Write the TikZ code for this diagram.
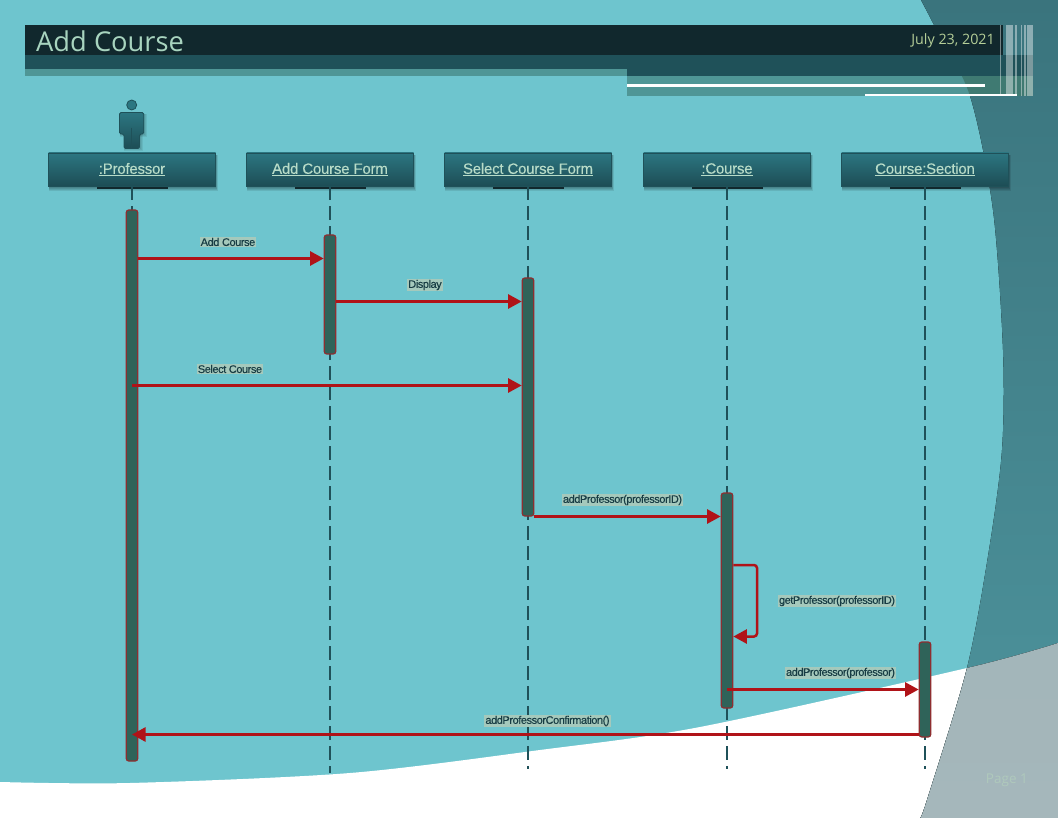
\documentclass[tikz,border=0pt]{standalone}
\usepackage{fontspec}
\setmainfont{Liberation Sans}
\newfontfamily\headfont{Open Sans}
\newfontfamily\tightfont[LetterSpace=-4,FakeBold=0.25]{Liberation Sans}
\newfontfamily\objfont[LetterSpace=-1.5,FakeBold=0.2]{Liberation Sans}
\usetikzlibrary{arrows.meta}
\definecolor{bgteal}{HTML}{6EC5CE}
\definecolor{barDark}{HTML}{11282D}
\definecolor{barMid}{HTML}{1F5159}
\definecolor{barLight}{HTML}{4F9696}
\definecolor{bandDark}{HTML}{3F7A72}
\definecolor{msgred}{HTML}{B01318}
\definecolor{actfill}{HTML}{2F6359}
\definecolor{actline}{HTML}{8E2E30}
\definecolor{paletxt}{HTML}{B8DCC8}
\definecolor{lblbg}{HTML}{A5C9BC}
\definecolor{lbltxt}{HTML}{173C44}
\definecolor{lifeline}{HTML}{1F5159}
\definecolor{boxTop}{HTML}{2C7681}
\definecolor{boxBot}{HTML}{1D4D55}
\definecolor{rsTop}{HTML}{3A747D}
\definecolor{rsBot}{HTML}{4E959E}
\definecolor{rgTop}{HTML}{9BB0B4}
\definecolor{rgBot}{HTML}{A5B7BB}
\definecolor{titleCol}{HTML}{A8D4BF}
\definecolor{dateCol}{HTML}{B5CF98}
\definecolor{pageCol}{HTML}{AFC9BC}
\tikzset{
  obj/.style={draw=barMid,line width=0.8pt,minimum width=167pt,minimum height=33pt,inner sep=0pt,
    top color=boxTop,bottom color=boxBot,text=paletxt,font=\objfont\fontsize{15}{15}\selectfont},
  act/.style={draw=actline,fill=actfill,line width=1.2pt,rounded corners=2.5pt,minimum width=11.5pt,inner sep=0pt},
  life/.style={draw=lifeline,line width=1.5pt,dash pattern=on 14pt off 6pt},
  msg/.style={draw=msgred,line width=2.5pt,-{Triangle[length=13.5pt,width=14pt]}},
  lbl/.style={fill=lblbg,text=lbltxt,inner sep=1pt,font=\tightfont\fontsize{11}{11}\selectfont},
}
\newcommand{\rightshape}{(921,0) plot[smooth] coordinates {(921,0) (933,23) (970,96) (993,210) (1003,350) (1002,450) (989,550) (967,668) (927,800) (920,818)} -- (1058,818) -- (1058,0) -- cycle}
\newcommand{\whiteshape}{(0,782) plot[smooth] coordinates {(0,782) (130,783) (350,773) (540,750) (700,727) (967,668) (1058,643)} -- (1058,818) -- (0,818) -- cycle}
\newcommand{\objshadow}[1]{%
  \foreach \d in {1,2,3,4,5}{\fill[black,opacity=.09] (#1-83,155) rectangle (#1+83+\d*.5,186+\d);}
  \fill[barDark] (#1-35,186) rectangle (#1+36,189.5);
  \fill[barMid] (#1-35,152) rectangle (#1+36,154);}
\begin{document}
\begin{tikzpicture}[x=1pt,y=-1pt]
\useasboundingbox (0,0) rectangle (1058,818);
% background
\fill[bgteal] (0,0) rectangle (1058,818);
\fill[white] \whiteshape;
\fill[top color=rsTop,bottom color=rsBot] \rightshape;
\begin{scope}
  \clip \whiteshape;
  \fill[top color=rgTop,bottom color=rgBot] \rightshape;
\end{scope}
% header
\fill[barLight] (25,69) rectangle (627,76);
\fill[barLight] (627,76) rectangle (1033,96);
\begin{scope}
  \clip \rightshape;
  \fill[bandDark] (627,76) rectangle (1033,96);
\end{scope}
\fill[barMid] (25,55) rectangle (627,69);
\fill[barMid] (627,55) rectangle (1033,76);
\fill[barDark] (25,25) rectangle (1003,55);
\foreach \a/\b in {1000/1000.7,1005.7/1013.3,1015/1016.7,1021/1022.3,1024.3/1026,1026.7/1033.3}
  \fill[white,opacity=.42] (\a,25) rectangle (\b,96);
\fill[white] (627,84) rectangle (985,87);
\fill[white] (865,94) rectangle (1017,96.5);
\node[anchor=west,inner sep=0pt,text=titleCol,font=\headfont\fontsize{27.3}{27.3}\selectfont] (title) at (36,41) {Add Course};
\node[anchor=east,inner sep=0pt,text=dateCol,font=\headfont\fontsize{14.3}{14.3}\selectfont] (date) at (995,41) {July 23, 2021};
\node[anchor=east,inner sep=0pt,text=pageCol,font=\headfont\fontsize{13.5}{13.5}\selectfont] (page) at (1028,780) {Page 1};
% actor
\foreach \d in {1,2,3}{\fill[black,opacity=.07] (120,114) rectangle (144+\d,134+\d);
  \fill[black,opacity=.07] (124,134) rectangle (140+\d,148+\d);}
\draw[barMid,line width=.8pt,fill=boxTop] (131.7,105) circle (5);
\draw[barMid,line width=.8pt,top color=boxTop,bottom color=boxBot,rounded corners=1.5pt]
  (119.5,112.5) -- (143.8,112.5) -- (143.8,134) -- (139.5,134) -- (139.5,148.5) -- (124,148.5) -- (124,134) -- (119.5,134) -- cycle;
\draw[barMid,line width=.7pt] (131.7,128) -- (131.7,148);
% lifeline ends and shadows
\objshadow{132}\objshadow{330}\objshadow{528}\objshadow{727}\objshadow{925}
\coordinate (e1) at (132,765);
\coordinate (e2) at (330,773);
\coordinate (e3) at (528,769);
\coordinate (e4) at (727,769);
\coordinate (e5) at (925,769);
% objects
\node[obj] (prof) at (132,169.5) {\underline{:Professor}};
\node[obj] (form) at (330,169.5) {\underline{Add Course Form}};
\node[obj] (sel) at (528,169.5) {\underline{Select Course Form}};
\node[obj] (course) at (727,169.5) {\underline{:Course}};
\node[obj] (sect) at (925,169.5) {\underline{Course:Section}};
% lifelines
\draw[life] (prof.south) -- (e1);
\draw[life] (form.south) -- (e2);
\draw[life] (sel.south) -- (e3);
\draw[life] (course.south) -- (e4);
\draw[life] (sect.south) -- (e5);
% activations
\node[act,minimum height=551pt] (a1) at (132,485.5) {};
\node[act,minimum height=119pt] (a2) at (330,294.5) {};
\node[act,minimum height=238pt] (a3) at (528,397) {};
\node[act,minimum height=215pt] (a4) at (727,600.5) {};
\node[act,minimum height=95pt] (a5) at (925,689.5) {};
% message heights
\coordinate (m1) at (0,258.5);
\coordinate (m2) at (0,301.5);
\coordinate (m3) at (0,385.5);
\coordinate (m4) at (0,516.5);
\coordinate (s1) at (0,565);
\coordinate (s2) at (0,636.5);
\coordinate (m6) at (0,689.5);
\coordinate (m7) at (0,734.5);
\coordinate (sx) at (757,0);
% messages
\draw[msg] (a1.east |- m1) -- (a2.west |- m1);
\draw[msg] (a2.east |- m2) -- (a3.west |- m2);
\draw[msg] (a1.center |- m3) -- (a3.west |- m3);
\draw[msg] (a3.east |- m4) -- (a4.west |- m4);
\draw[msg,rounded corners=3pt] (a4.east |- s1) -- (sx |- s1) -- (sx |- s2) -- (a4.east |- s2);
\draw[msg] (a4.center |- m6) -- (a5.west |- m6);
\draw[msg] (a5.west |- m7) -- (a1.center |- m7);
% labels
\node[lbl] (l1) at (228,242) {Add Course};
\node[lbl] (l2) at (425,285) {Display};
\node[lbl] (l3) at (230,369) {Select Course};
\node[lbl] (l4) at (622.5,500) {addProfessor(professorID)};
\node[lbl] (l5) at (837,601) {getProfessor(professorID)};
\node[lbl] (l6) at (840.5,673) {addProfessor(professor)};
\node[lbl] (l7) at (547.5,721) {addProfessorConfirmation()};
\end{tikzpicture}
\end{document}
